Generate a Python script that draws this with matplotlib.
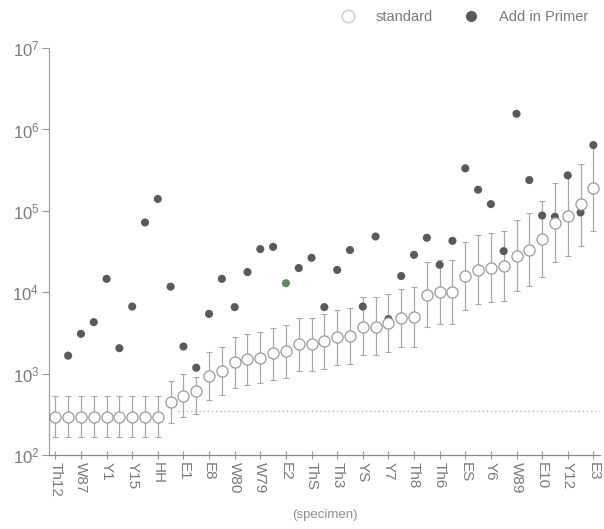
import matplotlib
matplotlib.use("Agg")
import matplotlib.pyplot as plt
import numpy as np
from matplotlib.ticker import LogLocator, NullLocator

plt.rcParams["font.family"] = ["Liberation Sans", "DejaVu Sans"]

# Data (one value per specimen, left to right)
tick_labels = ["Th12", "W87", "Y1", "Y15", "HH", "E1", "E8", "W80", "W79", "E2", "ThS",
               "Th3", "YS", "Y7", "Th8", "Th6", "ES", "Y6", "W89", "E10", "Y12", "E3"]

standard = [296, 296, 296, 296, 296, 296, 296, 296, 296, 453, 537, 618, 937, 1080, 1390,
            1490, 1570, 1800, 1880, 2300, 2320, 2480, 2800, 2930, 3790, 3790, 4240, 4800,
            4930, 9370, 10000, 10000, 15900, 18800, 19800, 21100, 28100, 33000, 45000,
            70800, 85400, 121000, 191000]
std_upper = [532, 532, 532, 532, 532, 532, 532, 532, 532, 813, 1000, 920, 1830, 2150, 2800,
             3050, 3260, 3680, 3940, 4840, 4840, 5470, 6120, 6430, 8700, 8700, 9640, 10900,
             11500, 23200, 24800, 24800, 42000, 50800, 53800, 56900, 77600, 94000, 134000,
             220000, 275000, 379000, 650000]
std_lower = [168, 168, 168, 168, 168, 168, 168, 168, 168, 245, 290, 320, 478, 547, 673,
             720, 769, 844, 885, 1080, 1080, 1150, 1280, 1330, 1710, 1710, 1850, 2110,
             2150, 3790, 4050, 4050, 6120, 7200, 7620, 7900, 10400, 12000, 15600, 23700,
             28100, 37300, 56400]
add_primer = [np.nan, 1660, 3080, 4290, 14600, 2050, 6670, 72000, 140000, 11700, 2150,
              1180, 5420, 14600, 6560, 17700, 33900, 36100, 12900, 19800, 26500, 6560,
              18800, 33000, 6670, 48400, 4670, 15800, 28800, 46700, 21700, 42800, 333000,
              182000, 121000, 32000, 1560000, 239000, 87700, 84600, 273000, 95500, 644000]
cutoff = 351

txt = "#7a7a7a"
x = np.arange(len(standard))
std = np.array(standard)
yerr = [std - np.array(std_lower), np.array(std_upper) - std]

fig = plt.figure(figsize=(6.04, 5.29), dpi=100)
ax = fig.add_axes([0.081, 0.140, 0.912, 0.769])

ax.hlines(cutoff, 9.6, 42.5, colors="#b0b0b0", linestyles=(0, (1, 2)), lw=1.0, zorder=1)

ax.errorbar(x, std, yerr=yerr, fmt="none", ecolor="#a8a8a8", elinewidth=0.9,
            capsize=2.5, capthick=0.8, zorder=2)
pcolors = ["#5a5a5a"] * len(add_primer)
pcolors[18] = "#5f8a60"
ax.scatter(x, add_primer, s=34, c=pcolors, edgecolors="none", zorder=3)
ax.plot(x, std, "o", ms=8, mfc="white", mec="#9a9a9a", mew=0.9, ls="none", zorder=4)

ax.set_yscale("log")
ax.set_ylim(100, 1e7)
ax.set_xlim(-0.5, 42.5)
ax.yaxis.set_major_locator(LogLocator(base=10, numticks=10))
ax.yaxis.set_minor_locator(NullLocator())
ax.set_xticks(x[::2])
ax.set_xticklabels(tick_labels, rotation=270, fontsize=11, color=txt)
ax.set_xticks(x[1::2], minor=True)
ax.tick_params(axis="x", which="major", direction="inout", length=6, color="#999999", pad=2)
ax.tick_params(axis="x", which="minor", length=0)
ax.tick_params(axis="y", direction="out", length=5, color="#999999", labelsize=12,
               labelcolor=txt, pad=2)

for s in ["top", "right"]:
    ax.spines[s].set_visible(False)
ax.spines["left"].set_color("#a0a0a0")
ax.spines["bottom"].set_color("#888888")
for s in ["left", "bottom"]:
    ax.spines[s].set_linewidth(0.9)

fig.text(0.538, 0.015, "(specimen)", ha="center", va="bottom", fontsize=9.5, color="#909090")

h1, = ax.plot([], [], "o", ms=9, mfc="white", mec="#cccccc", mew=1.0, ls="none")
h2, = ax.plot([], [], "o", ms=8, mfc="#5a5a5a", mec="none", ls="none")
fig.legend([h1, h2], ["standard", "Add in Primer"], loc="upper right",
           bbox_to_anchor=(0.995, 1.005), ncol=2, frameon=False, fontsize=10.5,
           labelcolor=txt, handletextpad=0.9, columnspacing=1.6)

fig.savefig("out.png", dpi=100)
